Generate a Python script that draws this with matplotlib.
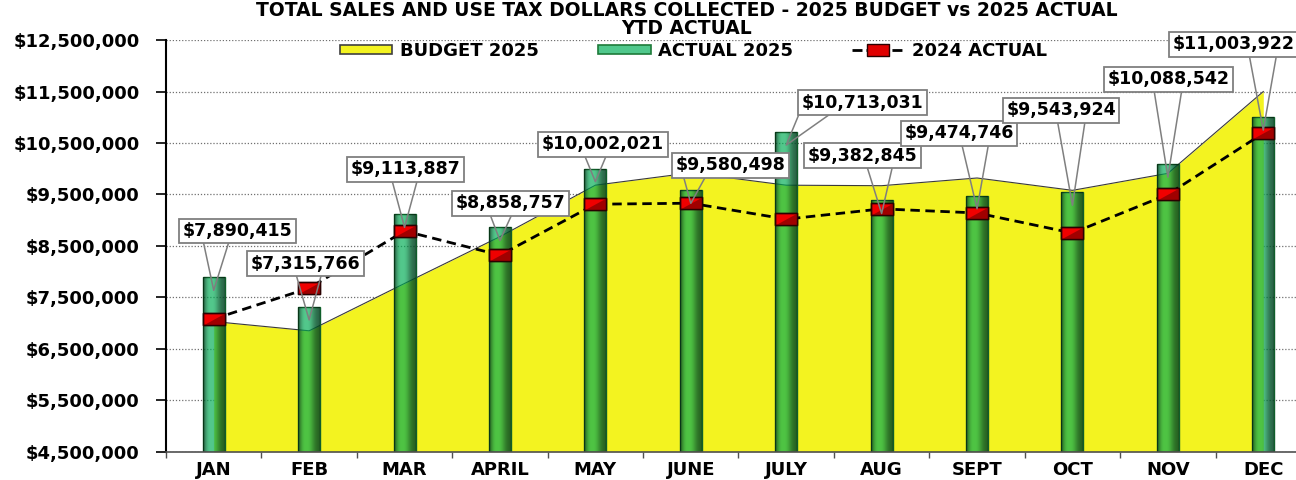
import numpy as np
import matplotlib
matplotlib.use('Agg')
import matplotlib.pyplot as plt
from matplotlib.patches import Patch
from matplotlib.lines import Line2D
from matplotlib.path import Path
from matplotlib.ticker import FuncFormatter

months = ['JAN', 'FEB', 'MAR', 'APRIL', 'MAY', 'JUNE', 'JULY', 'AUG', 'SEPT', 'OCT', 'NOV', 'DEC']
budget_2025 = [7.03e6, 6.85e6, 7.77e6, 8.68e6, 9.68e6, 9.92e6, 9.68e6, 9.67e6, 9.82e6, 9.58e6, 9.91e6, 11.50e6]
actual_2025 = [7890415, 7315766, 9113887, 8858757, 10002021, 9580498, 10713031, 9382845,
               9474746, 9543924, 10088542, 11003922]
actual_2024 = [7.08e6, 7.68e6, 8.79e6, 8.32e6, 9.31e6, 9.33e6, 9.02e6, 9.22e6, 9.14e6, 8.75e6, 9.50e6, 10.69e6]
y_ticks = [4.5e6, 5.5e6, 6.5e6, 7.5e6, 8.5e6, 9.5e6, 10.5e6, 11.5e6, 12.5e6]

# callout layout: box centre offset from bar (in category units) and box centre height
label_dx = [0.25, -0.04, 0.01, 0.11, 0.08, 0.42, 0.80, -0.20, -0.19, -0.12, 0.01, -0.31]
label_y = [8.79e6, 8.15e6, 9.99e6, 9.33e6, 10.48e6, 10.07e6, 11.28e6, 10.25e6, 10.69e6, 11.14e6, 11.74e6, 12.42e6]
tip_drop = 0.253e6

plt.rcParams['font.family'] = ['DejaVu Sans']
plt.rcParams['font.weight'] = 'bold'

W, H = 1296, 480
fig = plt.figure(figsize=(W / 100, H / 100), dpi=100)
ax = fig.add_axes([166 / W, 1 - 451.7 / H, 1145 / W, 411.6 / H])
x = np.arange(len(months))
YMIN, YMAX = y_ticks[0], y_ticks[-1]

YELLOW = '#F3F320'
ax.fill_between(x, budget_2025, YMIN, color=YELLOW, lw=0, zorder=1)
ax.plot(x, budget_2025, color='#3a3a3a', lw=0.8, zorder=1.1)

BAR_W = 0.23
bars = ax.bar(x, np.array(actual_2025) - YMIN, bottom=YMIN, width=BAR_W,
              color=(0.0, 0.68, 0.33, 0.68), edgecolor='#0F5F2A', linewidth=1.0, zorder=2)

# cylinder-like shading on each bar
prof = np.array([0.45, 0.25, 0.08, 0.0, 0.0, 0.0, 0.05, 0.15, 0.28, 0.38, 0.45, 0.5])
shade = np.zeros((1, len(prof), 4))
shade[0, :, 3] = prof
for b in bars:
    im = ax.imshow(shade, extent=(b.get_x(), b.get_x() + b.get_width(), b.get_y(), b.get_y() + b.get_height()),
                   aspect='auto', interpolation='bicubic', zorder=2.1)
    im.set_clip_path(b)

rect = Path([(-1, -0.5), (1, -0.5), (1, 0.5), (-1, 0.5), (-1, -0.5)],
            [Path.MOVETO, Path.LINETO, Path.LINETO, Path.LINETO, Path.CLOSEPOLY])
tri = Path([(-1, -0.5), (1, -0.5), (1, 0.5), (-1, -0.5), (-1, 0.5), (1, 0.5)],
           [Path.MOVETO, Path.LINETO, Path.LINETO, Path.CLOSEPOLY, Path.MOVETO, Path.MOVETO])
ax.plot(x, actual_2024, color='black', lw=2.0, ls=(0, (3.4, 2.0)), marker=rect, ms=16,
        mfc='#F00000', mec='#2a0000', mew=1.0, zorder=4)
ax.plot(x, actual_2024, ls='none', marker=tri, ms=16, mfc='#A00000', mec='none', zorder=4.1)
ax.plot(x, actual_2024, ls='none', marker=rect, ms=16, mfc='none', mec='#2a0000', mew=1.0, zorder=4.2)

ax.set_xlim(-0.5, 11.5)
ax.set_ylim(YMIN, YMAX)
ax.set_yticks(y_ticks)
ax.yaxis.set_major_formatter(FuncFormatter(lambda v, p: '${:,.0f}'.format(v)))
ax.set_xticks(x)
ax.set_xticklabels(months)
ax.set_xticks(np.arange(-0.5, 12, 1.0), minor=True)
ax.tick_params(axis='x', which='major', length=0, pad=7, labelsize=13)
ax.tick_params(axis='x', which='minor', length=4, width=1.0, color='#505050', direction='out')
ax.tick_params(axis='y', length=7, width=1.2, pad=12, labelsize=13)
ax.grid(axis='y', ls=(0, (1, 1.5)), color='#707070', lw=0.9)
ax.set_axisbelow(True)
for s in ['top', 'right']:
    ax.spines[s].set_visible(False)
ax.spines['left'].set_linewidth(1.5)
ax.spines['left'].set_color('black')
ax.spines['bottom'].set_linewidth(1.2)
ax.spines['bottom'].set_color('#505050')

for i, v in enumerate(actual_2025):
    dx = label_dx[i]
    rx = float(np.clip(0.5 - dx / 1.3, 0.15, 0.85))
    ax.annotate('${:,.0f}'.format(v), xy=(i, v - tip_drop), xytext=(i + dx, label_y[i]),
                textcoords='data', ha='center', va='center', fontsize=12.5, fontweight='bold',
                bbox=dict(boxstyle='square,pad=0.2', fc='white', ec='#7f7f7f', lw=1.3),
                arrowprops=dict(arrowstyle='wedge,tail_width=1.8,shrink_factor=0.5', fc='none',
                                ec='#7f7f7f', lw=1.1, patchA=None, shrinkA=0, shrinkB=0,
                                relpos=(rx, 0.5)),
                zorder=6, annotation_clip=False)

handles = [Patch(facecolor=YELLOW, edgecolor='#404040', lw=1.2),
           Patch(facecolor='#50C88C', edgecolor='#1E7A3A', lw=1.2),
           Line2D([], [], color='black', lw=2.0, ls=(0, (3.6, 1.44, 7.9, 1.44)), marker=rect, ms=16,
                  mfc='#E00000', mec='#2a0000', mew=1.0)]
leg = ax.legend(handles, ['BUDGET 2025', 'ACTUAL 2025', '2024 ACTUAL'], ncol=3, loc='center',
                bbox_to_anchor=((693.5 - 166) / 1145, (451.7 - 51) / 411.6), frameon=False,
                fontsize=13, handlelength=2.9, handleheight=0.45, handletextpad=0.4,
                columnspacing=3.3, borderpad=0)
for t in leg.get_texts():
    t.set_fontweight('bold')

fig.text(687 / W, 1 - 19.5 / H,
         'TOTAL SALES AND USE TAX DOLLARS COLLECTED - 2025 BUDGET vs 2025 ACTUAL\nYTD ACTUAL',
         ha='center', va='center', multialignment='center', linespacing=0.9,
         fontsize=13.5, fontweight='bold')

fig.savefig('out.png', dpi=100)
